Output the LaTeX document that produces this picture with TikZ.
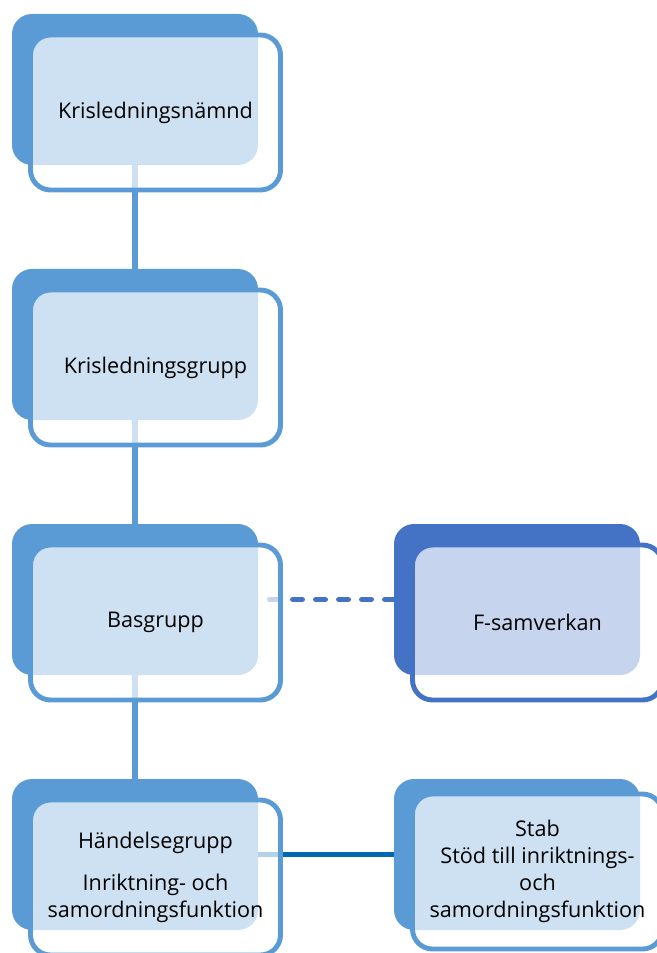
\documentclass[tikz,border=0pt]{standalone}
\usepackage{fontspec}
\setmainfont{Open Sans}
\usepackage{tikz}
\definecolor{boxBlue}{RGB}{91,155,213}
\definecolor{boxDark}{RGB}{68,114,196}
\definecolor{lineBlue}{RGB}{0,104,178}
\tikzset{myboxBack/.style={rectangle, rounded corners=0.4cm, fill=boxBlue, minimum width=4.92cm, minimum height=3.02cm, inner sep=0pt, outer sep=0pt}}
\tikzset{myboxFront/.style={rectangle, rounded corners=0.4cm, draw=boxBlue, line width=2.8pt, fill=white, fill opacity=0.7, text opacity=1, minimum width=5cm, minimum height=3.1cm, inner sep=0pt, outer sep=0pt, align=center, font=\fontsize{12.3}{15.3}\selectfont}}
\tikzset{myline/.style={boxBlue, line width=3.4pt}}

\begin{document}
\begin{tikzpicture}

\useasboundingbox (0,0) rectangle (13.12,-19.06);

\node[myboxBack] (knBack) at (2.70, -1.79) {};
\node[myboxBack] (kgBack) at (2.70, -6.89) {};
\node[myboxBack] (bgBack) at (2.70, -11.99) {};
\node[myboxBack] (hgBack) at (2.70, -17.09) {};
\node[myboxBack, fill=boxDark] (fsBack) at (10.34, -11.99) {};
\node[myboxBack] (stBack) at (10.34, -17.09) {};

\draw[myline] (knBack.south) -- (kgBack.north);
\draw[myline] (kgBack.south) -- (bgBack.north);
\draw[myline] (bgBack.south) -- (hgBack.north);
\draw[myline, boxDark, line cap=round, dash pattern=on 0.18cm off 0.28cm] (fsBack.west) -- (bgBack.east);
\draw[myline, lineBlue] (hgBack.east) -- (stBack.west);

\node[myboxFront] (kn) at (3.11, -2.25) {Krisledningsnämnd};
\node[myboxFront] (kg) at (3.11, -7.35) {Krisledningsgrupp};
\node[myboxFront] (bg) at (3.11, -12.45) {Basgrupp};
\node[myboxFront] (hg) at (3.11, -17.55) {Händelsegrupp\\[8.5pt] Inriktning- och\\ samordningsfunktion};
\node[myboxFront, draw=boxDark] (fs) at (10.75, -12.45) {F-samverkan};
\node[myboxFront] (st) at (10.75, -17.43) {Stab\\ Stöd till inriktnings-\\ och\\ samordningsfunktion};

\end{tikzpicture}
\end{document}
